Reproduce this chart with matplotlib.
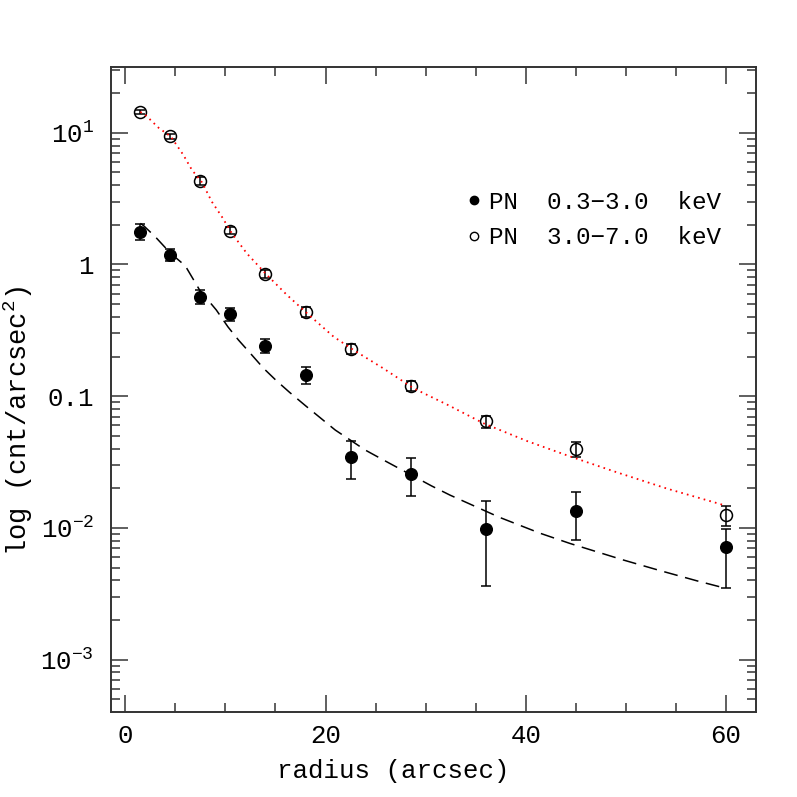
import numpy as np
import matplotlib
matplotlib.use("Agg")
import matplotlib.pyplot as plt
from matplotlib.ticker import FixedLocator, FixedFormatter, MultipleLocator, NullFormatter
from matplotlib.lines import Line2D

plt.rcParams['font.family'] = ['Liberation Mono', 'DejaVu Sans Mono']
plt.rcParams['mathtext.fontset'] = 'custom'
plt.rcParams['mathtext.rm'] = 'Liberation Mono'
plt.rcParams['mathtext.it'] = 'Liberation Mono:italic'
plt.rcParams['mathtext.bf'] = 'Liberation Mono:bold'
plt.rcParams['axes.unicode_minus'] = True
plt.rcParams['lines.scale_dashes'] = False

# data points (radius in arcsec)
radius = [1.5, 4.5, 7.5, 10.5, 14.0, 18.0, 22.5, 28.5, 36.0, 45.0, 60.0]

# PN 0.3-3.0 keV (filled)
soft = [1.76, 1.18, 0.569, 0.418, 0.2415, 0.144, 0.0347, 0.0258, 0.0098, 0.0134, 0.0072]
soft_err_lo = [0.23, 0.112, 0.065, 0.046, 0.028, 0.0195, 0.0112, 0.0083, 0.0062, 0.0053, 0.0037]
soft_err_hi = [0.26, 0.124, 0.074, 0.052, 0.031, 0.0225, 0.0112, 0.0081, 0.0062, 0.0052, 0.0026]

# PN 3.0-7.0 keV (open)
hard = [14.4, 9.4, 4.32, 1.80, 0.85, 0.4375, 0.229, 0.120, 0.0644, 0.0397, 0.01245]
hard_err = [0.5, 0.41, 0.3, 0.11, 0.06, 0.036, 0.02, 0.011, 0.0068, 0.005, 0.0021]

# model curves
soft_model_r = [1.5, 1.83, 3.0, 4.5, 5.99, 7.42, 9.09, 10.25, 11.3, 12.55, 13.8, 15.05, 16.4,
                18.0, 20.97, 23.96, 25.8, 30.6, 32.45, 37.4, 41.4, 44.4, 49.75, 53.4, 57.1, 60.0]
soft_model = [2.05, 1.97, 1.62, 1.22, 0.977, 0.64, 0.451, 0.336, 0.267, 0.209, 0.163, 0.132, 0.107,
              0.0846, 0.0553, 0.039, 0.0327, 0.0208, 0.0177, 0.0120, 0.00912, 0.00762, 0.00570,
              0.00474, 0.00396, 0.00347]

hard_model_r = [1.5, 2.07, 3.33, 4.56, 5.8, 6.66, 7.66, 8.65, 9.65, 10.65, 12.15, 14.15, 16.15,
                18.15, 20.8, 22.8, 25.8, 28.8, 32.3, 35.8, 40.1, 44.4, 49.1, 54.1, 60.0]
hard_model = [14.4, 13.5, 10.9, 9.33, 6.78, 5.21, 4.2, 2.99, 2.3, 1.72, 1.21, 0.831, 0.586,
              0.426, 0.283, 0.224, 0.162, 0.1146, 0.0851, 0.0621, 0.0457, 0.0349, 0.0264,
              0.01987, 0.01472]

ytick_vals = [1e-3, 1e-2, 0.1, 1, 10]
ytick_labels = [r'$10^{-3}$', r'$10^{-2}$', '0.1', '1', r'$10^{1}$']

fig = plt.figure(figsize=(7.97, 7.97), dpi=100)
ax = fig.add_axes([0.139, 0.107, 0.809, 0.8085])

# open points: markers under error bars and model line
ax.plot(radius, hard, 'o', ms=8.6, mfc='white', mec='black', mew=1.1, zorder=2)
ax.errorbar(radius, hard, yerr=hard_err, fmt='none', ecolor='black', elinewidth=1.1,
            capsize=3.6, capthick=1.1, zorder=3)
ax.plot(hard_model_r, hard_model, color='red', lw=1.3, linestyle=(0, (1.2, 3.0)), zorder=4)

ax.errorbar(radius, soft, yerr=[soft_err_lo, soft_err_hi], fmt='o', ms=8.4, color='black',
            ecolor='black', elinewidth=1.1, capsize=3.6, capthick=1.1, zorder=3)
ax.plot(soft_model_r, soft_model, color='black', lw=1.1, dashes=[10, 5.5], zorder=4)

ax.set_yscale('log')
ax.set_xlim(-1.45, 62.95)
ax.set_ylim(10 ** -3.396, 10 ** 1.4966)

ax.xaxis.set_major_locator(MultipleLocator(20))
ax.xaxis.set_minor_locator(MultipleLocator(5))
ax.yaxis.set_major_locator(FixedLocator(ytick_vals))
ax.yaxis.set_major_formatter(FixedFormatter(ytick_labels))
minors = [m * 10.0 ** e for e in range(-4, 2) for m in range(2, 10)]
ax.yaxis.set_minor_locator(FixedLocator(minors))
ax.yaxis.set_minor_formatter(NullFormatter())

ax.tick_params(which='both', direction='in', top=True, right=True, color='#444444', width=1.2)
ax.tick_params(which='major', length=12, labelsize=18.5)
ax.tick_params(axis='x', which='major', pad=9)
ax.tick_params(axis='y', which='major', pad=12)
ax.tick_params(which='minor', length=6.5)
for s in ax.spines.values():
    s.set_linewidth(1.4)
    s.set_color('#333333')

ax.set_xlabel('radius (arcsec)', fontsize=18.5, labelpad=8)
ax.set_ylabel(r'log (cnt/arcsec$^2$)', fontsize=19.5, labelpad=4)
ax.xaxis.label.set_x(0.438)
ax.yaxis.label.set_y(0.4516)

handles = [Line2D([], [], marker='o', ls='none', ms=6, color='black'),
           Line2D([], [], marker='o', ls='none', ms=6, mfc='white', mec='black', mew=1.0)]
labels = ['PN  0.3\u22123.0  keV', 'PN  3.0\u22127.0  keV']
ax.legend(handles, labels, loc='center left', bbox_to_anchor=(0.552, 0.763), frameon=False,
          fontsize=17.5, handlelength=0.6, handletextpad=0.3, labelspacing=0.5,
          borderpad=0, borderaxespad=0)

fig.savefig('out.png', dpi=100)
